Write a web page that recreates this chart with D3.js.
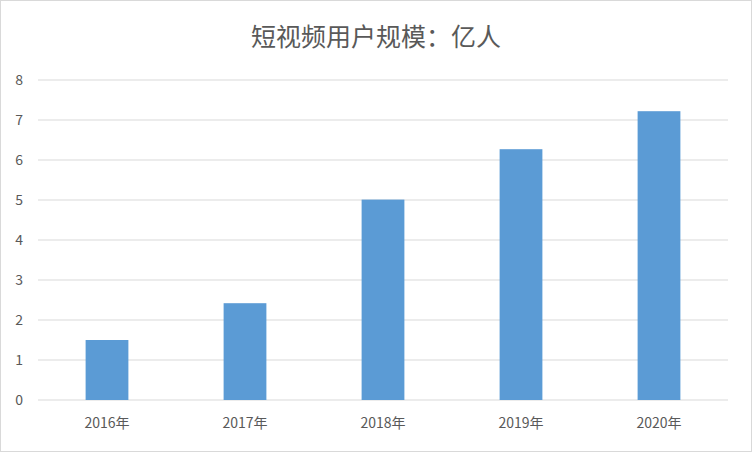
<!DOCTYPE html>
<html><head><meta charset="utf-8">
<script src="https://cdn.jsdelivr.net/npm/d3@7"></script>
<style>body{margin:0;background:#fff}</style>
</head><body>
<svg id="chart" width="752" height="452"></svg>
<script>
const years = ["2016年", "2017年", "2018年", "2019年", "2020年"];
const users = [1.5, 2.42, 5.01, 6.27, 7.22];
const yTicks = [0, 1, 2, 3, 4, 5, 6, 7, 8];

const svg = d3.select('#chart');
const margin = { left: 38, top: 80, right: 24, bottom: 52 };
const width = 752, height = 452;
const font = '"Noto Sans CJK SC", "Noto Sans", sans-serif';

svg.append('rect').attr('x', 0.5).attr('y', 0.5).attr('width', width - 1).attr('height', height - 1)
  .attr('fill', '#fff').attr('stroke', '#d9d9d9');

const x = d3.scaleBand().domain(years).range([margin.left, width - margin.right]).paddingInner(0.69).paddingOuter(0.345);
const y = d3.scaleLinear().domain([0, 8]).range([height - margin.bottom, margin.top]);

// gridlines
svg.append('g').selectAll('line').data(yTicks).join('line')
  .attr('x1', margin.left).attr('x2', width - margin.right)
  .attr('y1', d => y(d)).attr('y2', d => y(d))
  .attr('stroke', '#d9d9d9');

svg.append('g').selectAll('text').data(yTicks).join('text')
  .attr('x', 23).attr('y', d => y(d)).attr('dy', '0.35em')
  .attr('text-anchor', 'end').attr('font-family', font).attr('font-size', 14).attr('fill', '#595959')
  .text(d => d);

svg.append('g').selectAll('rect').data(users).join('rect')
  .attr('x', (d, i) => x(years[i])).attr('width', x.bandwidth())
  .attr('y', d => y(d)).attr('height', d => y(0) - y(d))
  .attr('fill', '#5b9bd5');

svg.append('g').selectAll('text').data(years).join('text')
  .attr('x', d => x(d) + x.bandwidth() / 2).attr('y', y(0) + 28)
  .attr('text-anchor', 'middle').attr('font-family', font).attr('font-size', 14).attr('fill', '#595959')
  .text(d => d);

svg.append('text').attr('x', width / 2).attr('y', 46).attr('text-anchor', 'middle')
  .attr('font-family', font).attr('font-size', 25).attr('fill', '#595959')
  .text('短视频用户规模：亿人');
</script>
</body></html>
